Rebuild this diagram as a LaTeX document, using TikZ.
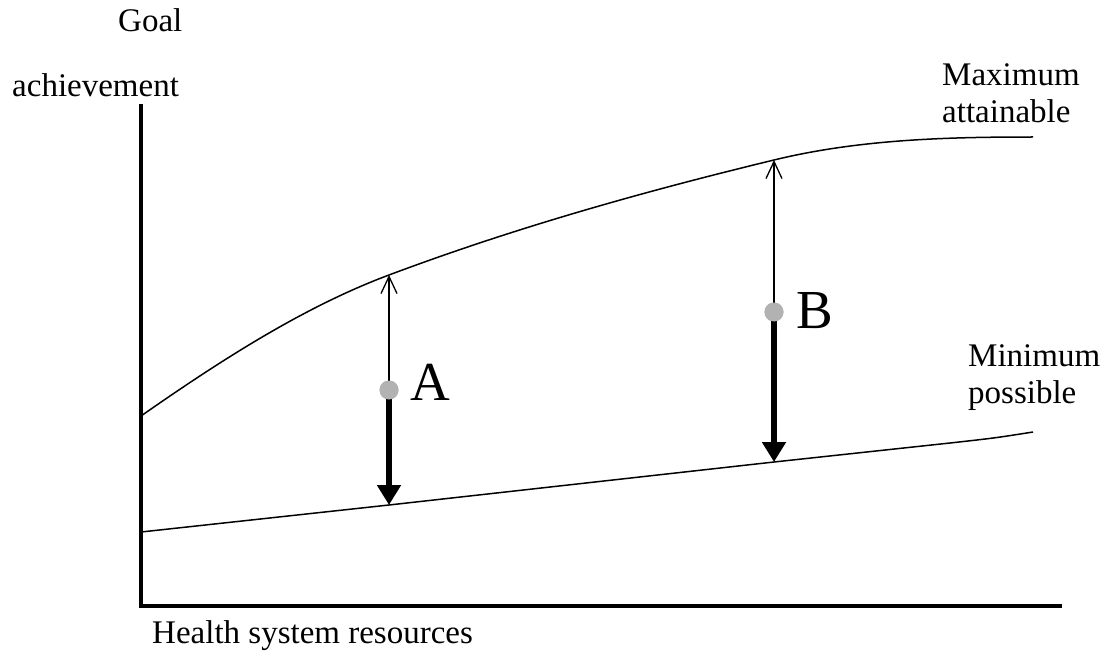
\documentclass[tikz,border=0pt]{standalone}
\usepackage{fontspec}
\setmainfont{Liberation Serif}
\usetikzlibrary{arrows.meta}
\begin{document}
\begin{tikzpicture}[x=1pt, y=-1pt,
    every node/.style={inner sep=0pt, font=\fontsize{33}{37}\selectfont},
    axis/.style={line width=4pt},
    curve/.style={line width=1.5pt},
    gap/.style={line width=1.3pt, -{Straight Barb[length=17pt,width=16pt]}},
    drop/.style={line width=6pt, -{Triangle[length=20pt,width=23pt]}},
    dot/.style={circle, fill=black!30, minimum size=19pt},
    point/.style={font=\fontsize{55}{60}\selectfont}]
    \useasboundingbox (0,0) rectangle (1115,655);
    % axes
    \coordinate (top) at (141,104);
    \coordinate (origin) at (141,606);
    \coordinate (right) at (1062,606);
    \draw[axis] (top) -- (origin) -- (right);
    % maximum attainable and minimum possible
    \coordinate (maxA) at (389,275);
    \coordinate (maxB) at (774,160);
    \coordinate (minA) at (389,505);
    \coordinate (minB) at (774,462);
    \draw[curve] (141,416) .. controls (224,358) and (306,306) .. (maxA)
        .. controls (517,227) and (646,191) .. (maxB)
        .. controls (860,139) and (950,137) .. (1033,137);
    \draw[curve] (141,532) -- (minA) -- (minB) -- (950,443)
        .. controls (995,438) .. (1033,432);
    % the two systems
    \node[dot] (dotA) at (389,390) {};
    \node[dot] (dotB) at (774,312) {};
    \draw[gap] (dotA.center) -- (maxA);
    \draw[drop] (dotA.center) -- (minA);
    \draw[gap] (dotB.center) -- (maxB);
    \draw[drop] (dotB.center) -- (minB);
    \node[dot] at (dotA) {};
    \node[dot] at (dotB) {};
    \node[point, anchor=base west] (labA) at (410,400) {A};
    \node[point, anchor=base west] (labB) at (796,328) {B};
    % labels
    \node[anchor=base west] (goal) at (118,32) {Goal};
    \node[anchor=base west] (achv) at (12,97) {achievement};
    \node[anchor=base west] (hsr) at (152,643) {Health system resources};
    \node[anchor=base west, align=left] (maxlbl) at (942,123) {Maximum\\attainable};
    \node[anchor=base west, align=left] (minlbl) at (968,403) {Minimum\\possible};
\end{tikzpicture}
\end{document}
